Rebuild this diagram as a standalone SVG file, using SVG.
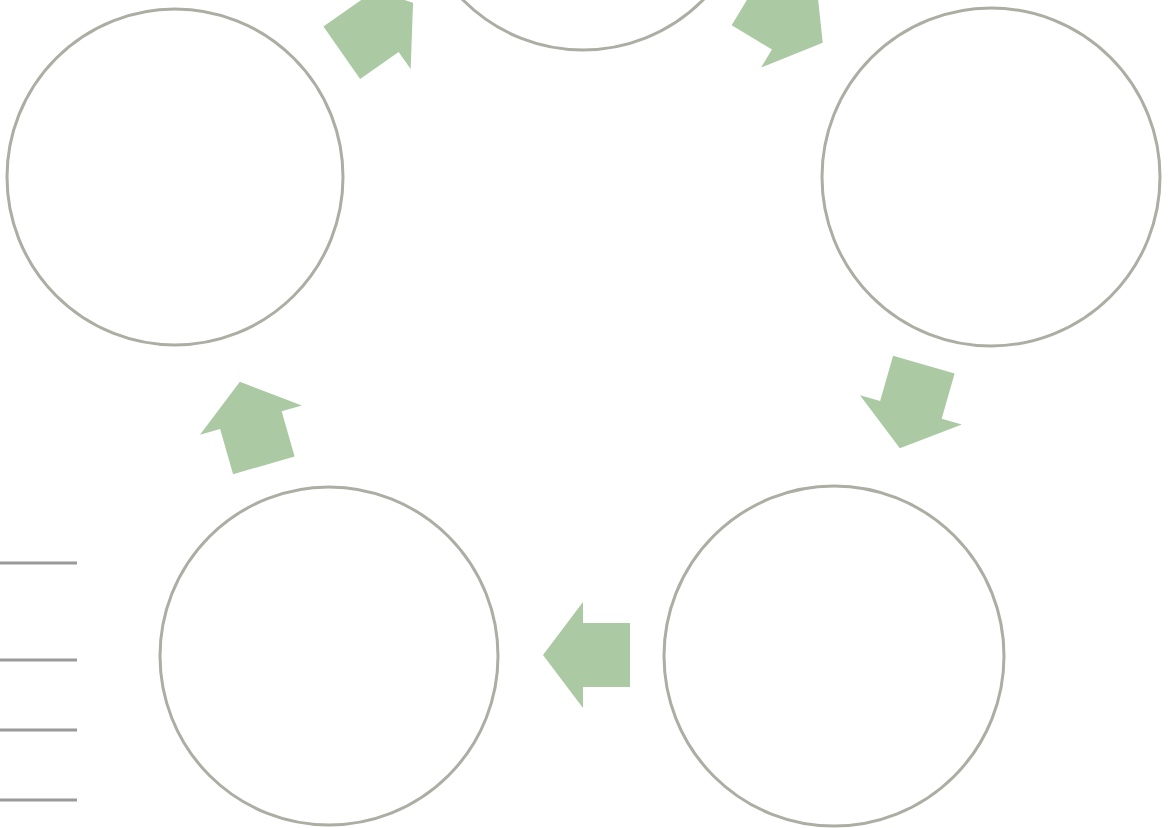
<svg xmlns="http://www.w3.org/2000/svg" xmlns:xlink="http://www.w3.org/1999/xlink" width="1169" height="828" viewBox="0 0 1169 828">
<style>
.node{fill:none;stroke:#acada3;stroke-width:3}
.arr{fill:#abc9a3}
.dash{stroke:#9a9a9a;stroke-width:3}
</style>
<defs>
<polygon id="arrow" points="44,0 4,-53 4,-32 -43,-32 -43,32 4,32 4,53"/>
</defs>
<rect width="1169" height="828" fill="#ffffff"/>
<g id="node-top"><circle class="node" cx="583" cy="-119" r="169"/></g>
<g id="node-top-left"><circle class="node" cx="175" cy="177" r="168"/></g>
<g id="node-top-right"><circle class="node" cx="991" cy="177" r="169"/></g>
<g id="node-bottom-left"><circle class="node" cx="329" cy="656" r="169"/></g>
<g id="node-bottom-right"><circle class="node" cx="834" cy="656" r="170"/></g>
<g id="connectors">
<use class="arr" xlink:href="#arrow" transform="translate(377,28) rotate(-35)"/>
<use class="arr" xlink:href="#arrow" transform="translate(785,20) rotate(31)"/>
<use class="arr" xlink:href="#arrow" transform="translate(912,406) rotate(106)"/>
<use class="arr" xlink:href="#arrow" transform="translate(587,655) rotate(180)"/>
<use class="arr" xlink:href="#arrow" transform="translate(252,424) rotate(-106)"/>
</g>
<g id="legend-lines">
<line class="dash" x1="0" y1="563" x2="77" y2="563"/>
<line class="dash" x1="0" y1="660" x2="77" y2="660"/>
<line class="dash" x1="0" y1="730" x2="77" y2="730"/>
<line class="dash" x1="0" y1="800" x2="77" y2="800"/>
</g>
</svg>
